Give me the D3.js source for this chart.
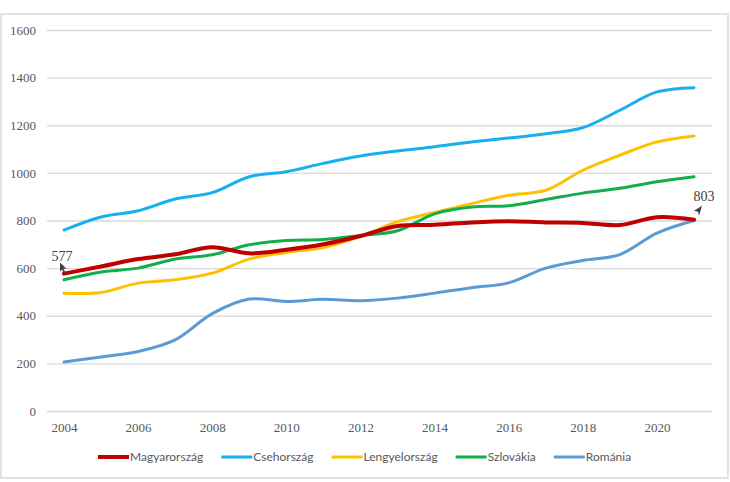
<!DOCTYPE html>
<html>
<head>
<meta charset="utf-8">
<script src="https://cdn.jsdelivr.net/npm/d3@7"></script>
<style>
  body { margin: 0; background: #fff; }
  svg { display: block; }
</style>
</head>
<body>
<svg id="chart_svg" width="730" height="482"></svg>
<script>
// years on the category axis, labels shown every second year
var years = [2004, 2005, 2006, 2007, 2008, 2009, 2010, 2011, 2012, 2013, 2014, 2015, 2016, 2017, 2018, 2019, 2020, 2021];
var yearTicks = [2004, 2006, 2008, 2010, 2012, 2014, 2016, 2018, 2020];
var valueTicks = [0, 200, 400, 600, 800, 1000, 1200, 1400, 1600];

var seriesNames = ["Magyarország", "Csehország", "Lengyelország", "Szlovákia", "Románia"];
var seriesColors = ["#c00000", "#16aff0", "#ffc000", "#12ae4c", "#5b9bd5"];

var magyarorszag = [577, 607, 638, 658, 688, 662, 677, 700, 735, 777, 782, 792, 797, 792, 790, 781, 814, 803];
var csehorszag = [760, 815, 841, 890, 917, 984, 1005, 1040, 1071, 1092, 1110, 1130, 1146, 1164, 1190, 1263, 1340, 1358];
var lengyelorszag = [495, 498, 537, 551, 579, 638, 666, 686, 733, 795, 834, 871, 906, 927, 1011, 1074, 1130, 1155];
var szlovakia = [551, 584, 600, 638, 656, 698, 716, 720, 737, 757, 828, 857, 862, 888, 915, 935, 963, 984];
var romania = [206, 227, 250, 299, 409, 470, 460, 469, 463, 474, 495, 518, 538, 600, 632, 657, 747, 800];

var seriesValues = [magyarorszag, csehorszag, lengyelorszag, szlovakia, romania];
var seriesWidths = [4, 3, 3, 3, 3];

var svg = d3.select("#chart_svg");

// outer frame of the chart
svg.append("rect").attr("x", 1).attr("y", 14).attr("width", 727).attr("height", 464)
  .attr("fill", "#fff").attr("stroke", "#d9d9d9").attr("stroke-width", 1.5);

var x = d3.scaleLinear().domain([2004, 2021]).range([64, 694]);
var y = d3.scaleLinear().domain([0, 1600]).range([411, 30]);

// gridlines + y labels
var yAxis = svg.append("g").attr("transform", "translate(47,0)")
  .call(d3.axisLeft(y).tickValues(valueTicks).tickSize(-665).tickPadding(11).tickFormat(d3.format("d")));
yAxis.select(".domain").remove();
yAxis.selectAll(".tick line").attr("stroke", "#d9d9d9").attr("stroke-width", 1.3);
yAxis.selectAll(".tick text").attr("font-family", "'Liberation Serif', serif").attr("font-size", 13).attr("fill", "#595959");

// x labels
var xAxis = svg.append("g").attr("transform", "translate(0,411)")
  .call(d3.axisBottom(x).tickValues(yearTicks).tickSize(0).tickPadding(12).tickFormat(d3.format("d")));
xAxis.select(".domain").remove();
xAxis.selectAll(".tick text").attr("font-family", "'Liberation Serif', serif").attr("font-size", 13).attr("fill", "#595959");

var line = d3.line()
  .x(function (d, i) { return x(years[i]); })
  .y(function (d) { return y(d); })
  .curve(d3.curveCatmullRom.alpha(0.5));

// draw Romania first, Hungary last so red sits on top
var drawOrder = [4, 1, 2, 3, 0];
drawOrder.forEach(function (k) {
  svg.append("path").datum(seriesValues[k]).attr("d", line)
    .attr("fill", "none").attr("stroke", seriesColors[k])
    .attr("stroke-width", seriesWidths[k]).attr("stroke-linecap", "round");
});

// value labels at the ends of the Hungarian line
var first = magyarorszag[0], last = magyarorszag[magyarorszag.length - 1];
svg.append("text").attr("x", x(2004) - 2).attr("y", y(first) - 13)
  .attr("text-anchor", "middle").attr("font-family", "'Liberation Serif', serif")
  .attr("font-size", 14).attr("fill", "#404040").text(first);
svg.append("text").attr("x", x(2021) + 10).attr("y", y(last) - 19)
  .attr("text-anchor", "middle").attr("font-family", "'Liberation Serif', serif")
  .attr("font-size", 14).attr("fill", "#404040").text(last);

// little pointer arrows next to the labels
var cx0 = x(2004) - 4, cy0 = y(first) - 11;
svg.append("path")
  .attr("d", "M" + cx0 + "," + cy0 + " l0,9 l2,-2 l2,4 l1.5,-0.8 l-2,-4 l3,0 z")
  .attr("fill", "#404040");
var cx1 = x(2021) + 8, cy1 = y(last) - 14;
svg.append("path")
  .attr("d", "M" + cx1 + "," + cy1 + " l-8,5 l4,1 l1,4 z")
  .attr("fill", "#404040");

// legend
var legend = svg.append("g").attr("transform", "translate(0,457)");
var lx = 98;
seriesNames.forEach(function (name, k) {
  var item = legend.append("g").attr("transform", "translate(" + lx + ",0)");
  item.append("line").attr("x1", 0).attr("x2", 31).attr("y1", 0).attr("y2", 0)
    .attr("stroke", seriesColors[k]).attr("stroke-width", seriesWidths[k]);
  var t = item.append("text").attr("x", 32).attr("y", 4)
    .attr("font-family", "Lato, sans-serif").attr("font-size", 12).attr("fill", "#595959").text(name);
  lx += 32 + t.node().getComputedTextLength() + 18;
});
</script>
</body>
</html>
